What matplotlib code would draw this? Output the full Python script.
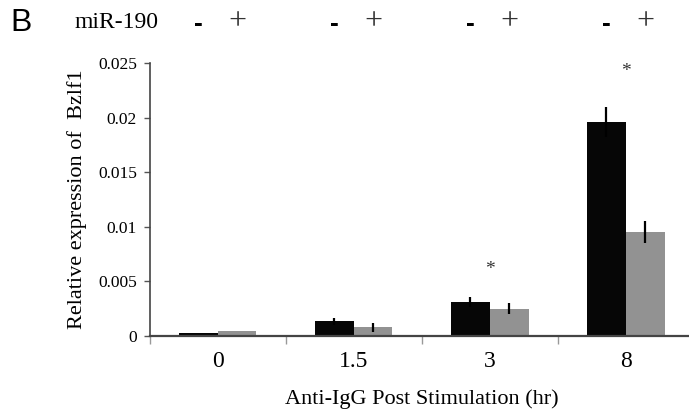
import numpy as np
import matplotlib
matplotlib.use("Agg")
import matplotlib.pyplot as plt
import matplotlib.transforms as mtransforms

# data
hours = ["0", "1.5", "3", "8"]
ctrl = [0.00027, 0.00134, 0.00314, 0.0196]
ctrl_err = [0.0, 0.0003, 0.00045, 0.0014]
mir = [0.00046, 0.0008, 0.0025, 0.0095]
mir_err = [0.0, 0.0004, 0.0005, 0.0010]
star_y = [None, None, 0.0061, 0.0242]
yticks = [0, 0.005, 0.01, 0.015, 0.02, 0.025]
ytick_labels = ["0", "0.005", "0.01", "0.015", "0.02", "0.025"]

serif = "Liberation Serif"
sans = "Liberation Sans"

fig = plt.figure(figsize=(6.89, 4.13), dpi=100)
ax = fig.add_axes([0.2171, 0.1864, 0.790, 0.661])

x = np.arange(len(hours))
w = 0.285
ax.bar(x - w / 2, ctrl, w, color="#060606", zorder=2)
ax.bar(x + w / 2, mir, w, color="#929292", zorder=2)
ax.errorbar(x - w / 2, ctrl, yerr=ctrl_err, fmt="none", ecolor="black",
            elinewidth=1.6, capsize=0, zorder=3)
ax.errorbar(x + w / 2, mir, yerr=mir_err, fmt="none", ecolor="black",
            elinewidth=1.6, capsize=0, zorder=3)

for xi, sy in zip(x, star_y):
    if sy is not None:
        ax.text(xi, sy, "*", ha="center", va="center", fontsize=14,
                family=serif, color="#333333")

ax.set_xlim(-0.5, 3.5)
ax.set_ylim(0, 0.025)

ax.set_yticks(yticks)
ax.set_yticklabels(ytick_labels, family=serif, fontsize=12.5)
ax.tick_params(axis="y", direction="out", length=4, width=1, color="#555555",
               pad=5)

ax.set_xticks(x)
ax.set_xticklabels(hours, family=serif, fontsize=17)
ax.tick_params(axis="x", which="major", length=0, pad=11)
ax.set_xticks(np.arange(-0.5, 3.6, 1.0), minor=True)
ax.tick_params(axis="x", which="minor", direction="out", length=6, width=1,
               color="#999999")

for s in ["top", "right"]:
    ax.spines[s].set_visible(False)
ax.spines["left"].set_color("#444444")
ax.spines["bottom"].set_color("#444444")
ax.spines["left"].set_linewidth(1.2)
ax.spines["bottom"].set_linewidth(1.6)

ax.set_ylabel("Relative expression of  Bzlf1", family=serif, fontsize=16,
              labelpad=8)
ax.set_xlabel("Anti-IgG Post Stimulation (hr)", family=serif, fontsize=16,
              labelpad=12)

# header row: panel letter, miR-190 -/+ over each bar
fig.text(0.015, 0.945, "B", family=sans, fontsize=23, va="center", ha="left")
fig.text(0.108, 0.945, "miR-190", family=serif, fontsize=17, va="center",
         ha="left")
trans = mtransforms.blended_transform_factory(ax.transData, fig.transFigure)
for xi in x:
    ax.text(xi - w / 2, 0.943, "-", transform=trans, family=sans, fontsize=19,
            fontweight="bold", ha="center", va="center", clip_on=False)
    ax.text(xi + w / 2, 0.947, "+", transform=trans, family=serif, fontsize=23,
            color="#333333", ha="center", va="center", clip_on=False)

fig.savefig("out.png", dpi=100)
